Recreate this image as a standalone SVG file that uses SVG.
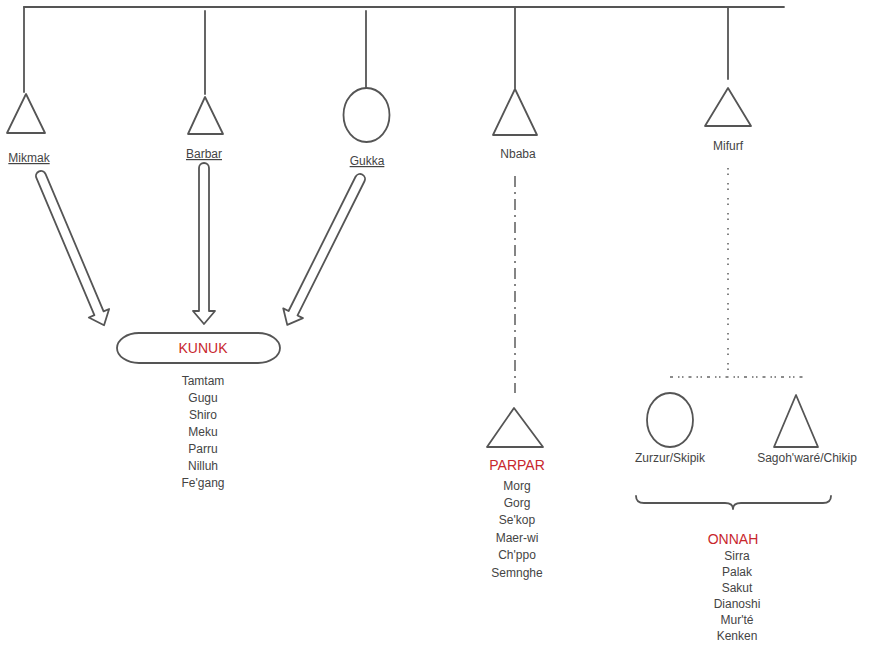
<svg xmlns="http://www.w3.org/2000/svg" width="871" height="645" viewBox="0 0 871 645">
<style>
.ln{stroke:#555;stroke-width:1.8;fill:none;stroke-linejoin:round;stroke-linecap:round}
.dt{stroke:#666;stroke-width:1.6;fill:none;stroke-linecap:butt}
.sh{stroke:#555;stroke-width:1.8;fill:#fff;stroke-linejoin:round}
.t{font-family:"Liberation Sans",Arial,sans-serif;font-size:12px;fill:#444;text-anchor:middle}
.u{text-decoration:underline}
.h{font-family:"Liberation Sans",Arial,sans-serif;font-size:14px;fill:#c8272d;text-anchor:middle}
</style>
<rect width="871" height="645" fill="#fff"/>
<g id="connectors">
<path class="ln" d="M24,7 H784"/>
<path class="ln" d="M24,7 V92"/>
<path class="ln" d="M205,11 V94"/>
<path class="ln" d="M366,11 V88"/>
<path class="ln" d="M515,7 V88"/>
<path class="ln" d="M728,7 V79"/>
<path class="dt" d="M515,176 V393" stroke-dasharray="11 5 2 5"/>
<path class="dt" d="M728,168 V375" stroke-dasharray="1.5 4 1.5 8"/>
<path class="dt" d="M670,377 H803" stroke-dasharray="3 5 1.5 2.5 1.5 5"/>
<path class="ln" d="M636,496 Q636,503 644,503 L725,503 Q733,503 733,509 Q733,503 741,503 L823,503 Q831,503 831,496"/>
<path class="sh" transform="translate(41,176) rotate(67.1)" d="M0,-5 H149 V-11 L162,0 L149,11 V5 H0 A5,5 0 0 1 0,-5 Z"/>
<path class="sh" transform="translate(204,168) rotate(90)" d="M0,-5 H143 V-11 L156,0 L143,11 V5 H0 A5,5 0 0 1 0,-5 Z"/>
<path class="sh" transform="translate(360,179) rotate(116.5)" d="M0,-5 H150 V-11 L163,0 L150,11 V5 H0 A5,5 0 0 1 0,-5 Z"/>
</g>
<g id="mikmak">
<polygon class="sh" points="26,94 7,133 45,133"/>
<text class="t u" x="29" y="162">Mikmak</text>
</g>
<g id="barbar">
<polygon class="sh" points="205,97 188,134 223,134"/>
<text class="t u" x="204" y="158">Barbar</text>
</g>
<g id="gukka">
<ellipse class="sh" cx="366.5" cy="115" rx="23" ry="27"/>
<text class="t u" x="367" y="165">Gukka</text>
</g>
<g id="nbaba">
<polygon class="sh" points="515,89 493,135 537,135"/>
<text class="t" x="518" y="158">Nbaba</text>
</g>
<g id="mifurf">
<polygon class="sh" points="728,88 705,126 751,126"/>
<text class="t" x="728" y="150">Mifurf</text>
</g>
<g id="kunuk">
<rect class="sh" x="117" y="333" width="163" height="30" rx="22" ry="15"/>
<text class="h" x="203" y="353">KUNUK</text>
<text class="t" x="203" y="385">Tamtam</text>
<text class="t" x="203" y="402">Gugu</text>
<text class="t" x="203" y="419">Shiro</text>
<text class="t" x="203" y="436">Meku</text>
<text class="t" x="203" y="453">Parru</text>
<text class="t" x="203" y="470">Nilluh</text>
<text class="t" x="203" y="487">Fe'gang</text>
</g>
<g id="parpar">
<polygon class="sh" points="514,408 487,447 543,447"/>
<text class="h" x="517" y="470">PARPAR</text>
<text class="t" x="517" y="490">Morg</text>
<text class="t" x="517" y="507">Gorg</text>
<text class="t" x="517" y="524">Se'kop</text>
<text class="t" x="517" y="542">Maer-wi</text>
<text class="t" x="517" y="559">Ch'ppo</text>
<text class="t" x="517" y="577">Semnghe</text>
</g>
<g id="zurzur">
<ellipse class="sh" cx="670" cy="420" rx="23" ry="27"/>
<text class="t" x="670" y="462">Zurzur/Skipik</text>
</g>
<g id="sagohware">
<polygon class="sh" points="796,395 774,447 818,447"/>
<text class="t" x="807" y="462">Sagoh'waré/Chikip</text>
</g>
<g id="onnah">
<text class="h" x="733" y="544">ONNAH</text>
<text class="t" x="737" y="560">Sirra</text>
<text class="t" x="737" y="576">Palak</text>
<text class="t" x="737" y="592">Sakut</text>
<text class="t" x="737" y="608">Dianoshi</text>
<text class="t" x="737" y="624">Mur'té</text>
<text class="t" x="737" y="640">Kenken</text>
</g>
</svg>
